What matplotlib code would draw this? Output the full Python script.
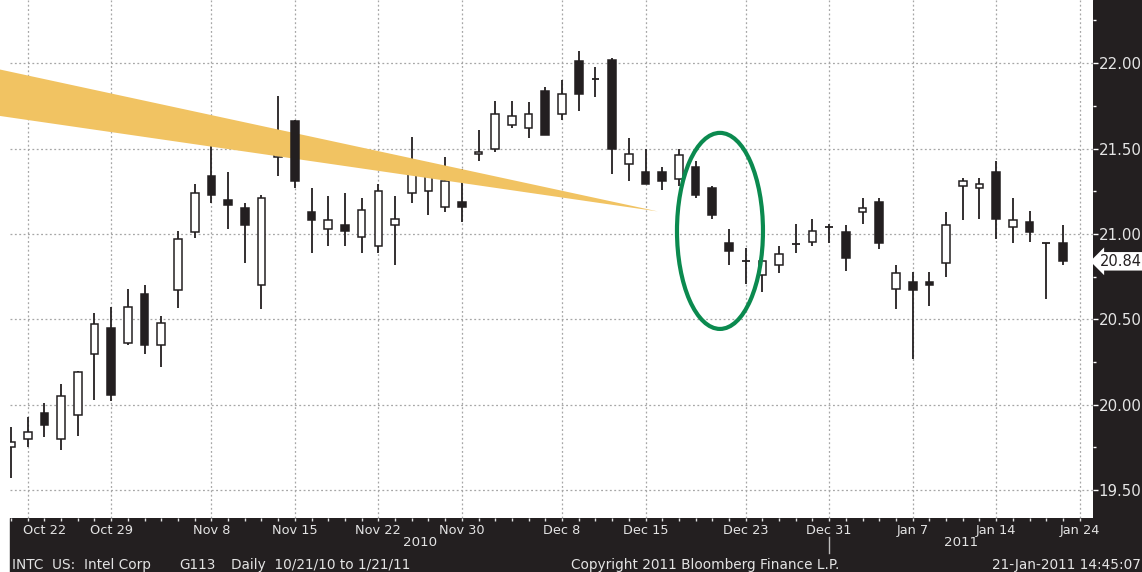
import numpy as np
import matplotlib
matplotlib.use('Agg')
import matplotlib.pyplot as plt
from matplotlib.patches import Rectangle, Polygon, Ellipse
from matplotlib.transforms import ScaledTranslation, blended_transform_factory

# INTC daily candles, 10/21/10 - 1/21/11
dates = ['2010-10-21', '2010-10-22', '2010-10-25', '2010-10-26', '2010-10-27', '2010-10-28', '2010-10-29',
         '2010-11-01', '2010-11-02', '2010-11-03', '2010-11-04', '2010-11-05', '2010-11-08', '2010-11-09',
         '2010-11-10', '2010-11-11', '2010-11-12', '2010-11-15', '2010-11-16', '2010-11-17', '2010-11-18',
         '2010-11-19', '2010-11-22', '2010-11-23', '2010-11-24', '2010-11-26', '2010-11-29', '2010-11-30',
         '2010-12-01', '2010-12-02', '2010-12-03', '2010-12-06', '2010-12-07', '2010-12-08', '2010-12-09',
         '2010-12-10', '2010-12-13', '2010-12-14', '2010-12-15', '2010-12-16', '2010-12-17', '2010-12-20',
         '2010-12-21', '2010-12-22', '2010-12-23', '2010-12-27', '2010-12-28', '2010-12-29', '2010-12-30',
         '2010-12-31', '2011-01-03', '2011-01-04', '2011-01-05', '2011-01-06', '2011-01-07', '2011-01-10',
         '2011-01-11', '2011-01-12', '2011-01-13', '2011-01-14', '2011-01-18', '2011-01-19', '2011-01-20',
         '2011-01-21']

opens = [19.755, 19.80, 19.95, 19.80, 19.94, 20.30, 20.45, 20.36, 20.65, 20.35, 20.67, 21.01, 21.34, 21.20,
         21.15, 20.70, 21.45, 21.66, 21.13, 21.03, 21.05, 20.98, 20.93, 21.05, 21.24, 21.25, 21.16, 21.19,
         21.47, 21.50, 21.64, 21.62, 21.84, 21.70, 22.01, 21.91, 22.02, 21.41, 21.36, 21.36, 21.32, 21.39,
         21.27, 20.95, 20.84, 20.76, 20.82, 20.94, 20.955, 21.04, 21.01, 21.13, 21.19, 20.68, 20.72, 20.72,
         20.83, 21.28, 21.27, 21.36, 21.04, 21.07, 20.945, 20.95]
highs = [19.87, 19.93, 20.01, 20.12, 20.20, 20.54, 20.57, 20.68, 20.70, 20.52, 21.02, 21.29, 21.52, 21.36,
         21.18, 21.23, 21.81, 21.67, 21.27, 21.22, 21.24, 21.21, 21.29, 21.22, 21.57, 21.42, 21.45, 21.38,
         21.61, 21.78, 21.78, 21.77, 21.86, 21.90, 22.07, 21.98, 22.03, 21.56, 21.50, 21.39, 21.50, 21.43,
         21.28, 21.03, 20.92, 20.87, 20.93, 21.06, 21.09, 21.06, 21.05, 21.21, 21.21, 20.82, 20.78, 20.78,
         21.13, 21.33, 21.33, 21.43, 21.21, 21.135, 20.945, 21.05]
lows = [19.57, 19.755, 19.81, 19.735, 19.82, 20.03, 20.02, 20.35, 20.30, 20.22, 20.565, 20.975, 21.18, 21.03,
        20.83, 20.56, 21.34, 21.27, 20.89, 20.93, 20.93, 20.89, 20.89, 20.82, 21.18, 21.11, 21.13, 21.07,
        21.43, 21.48, 21.62, 21.56, 21.58, 21.67, 21.72, 21.80, 21.35, 21.31, 21.29, 21.26, 21.28, 21.21,
        21.09, 20.82, 20.71, 20.66, 20.77, 20.89, 20.93, 20.95, 20.785, 21.06, 20.91, 20.56, 20.27, 20.58,
        20.75, 21.08, 21.09, 20.97, 20.95, 20.955, 20.62, 20.82]
closes = [19.78, 19.84, 19.88, 20.05, 20.19, 20.47, 20.06, 20.57, 20.35, 20.48, 20.97, 21.24, 21.23, 21.17,
          21.05, 21.21, 21.60, 21.31, 21.08, 21.08, 21.02, 21.14, 21.25, 21.09, 21.38, 21.38, 21.31, 21.16,
          21.48, 21.70, 21.69, 21.70, 21.58, 21.82, 21.82, 21.91, 21.50, 21.47, 21.29, 21.31, 21.46, 21.23,
          21.11, 20.90, 20.84, 20.84, 20.88, 20.94, 21.02, 21.04, 20.86, 21.15, 20.95, 20.77, 20.67, 20.70,
          21.05, 21.31, 21.29, 21.09, 21.08, 21.01, 20.945, 20.84]

tick_labels = ['Oct 22', 'Oct 29', 'Nov 8', 'Nov 15', 'Nov 22', 'Nov 30', 'Dec 8', 'Dec 15', 'Dec 23',
               'Dec 31', 'Jan 7', 'Jan 14', 'Jan 24']
tick_days = ['2010-10-22', '2010-10-29', '2010-11-08', '2010-11-15', '2010-11-22', '2010-11-30',
             '2010-12-08', '2010-12-15', '2010-12-23', '2010-12-31', '2011-01-07', '2011-01-14', '2011-01-24']
yticks = [19.50, 20.00, 20.50, 21.00, 21.50, 22.00]
last_price = 20.84

# annotation shapes (index / price units)
band_pts = [(-0.66, 21.963), (38.74, 21.132), (-0.66, 21.691)]
circle_center = (42.46, 21.018)

DARK = '#231f20'
LIGHT = '#e4e4e4'
W, H = 1142, 572

fig = plt.figure(figsize=(W / 100, H / 100), dpi=100)
bg = fig.add_axes([0, 0, 1, 1], zorder=-1)
bg.set_xlim(0, W)
bg.set_ylim(H, 0)
bg.axis('off')
bg.add_patch(Rectangle((10, 518), W - 10, 54, color=DARK))
bg.add_patch(Rectangle((1093, 0), W - 1093, 518, color=DARK))

ax = fig.add_axes([10 / W, 54 / H, 1083 / W, 518 / H])
ax.set_facecolor('white')

x = np.arange(len(dates))
bw = 0.46
for i in x:
    o, h, l, c = opens[i], highs[i], lows[i], closes[i]
    ax.vlines(i, l, h, color=DARK, lw=1.3, zorder=2)
    if abs(c - o) < 0.004:
        ax.hlines(o, i - bw / 2, i + bw / 2, color=DARK, lw=1.3, zorder=2)
    elif c > o:
        ax.add_patch(Rectangle((i - bw / 2, o), bw, c - o, fc='white', ec=DARK, lw=1.1, zorder=3))
    else:
        ax.add_patch(Rectangle((i - bw / 2, c), bw, o - c, fc=DARK, ec=DARK, lw=1.1, zorder=5))

ax.add_patch(Polygon(band_pts, closed=True, fc='#f1c362', ec='none', zorder=4, clip_on=False))
ax.add_patch(Ellipse(circle_center, 5.15, 1.148, fill=False, ec='#0b8a4f', lw=3, zorder=6))

# x axis: daily ticks, date labels
tick_pos = [dates.index(d) if d in dates else len(dates) for d in tick_days]
ax.set_xticks(tick_pos)
ax.set_xticklabels(tick_labels)
ax.set_xticks(x.tolist() + [len(dates)], minor=True)
ax.tick_params(axis='x', which='both', direction='out', length=2.5, width=1, color=LIGHT,
               labelcolor=LIGHT, labelsize=9.3, pad=1.5)
first = ax.get_xticklabels()[0]
first.set_ha('left')
first.set_transform(first.get_transform() + ScaledTranslation(-5 / 100, 0, fig.dpi_scale_trans))

# y axis on the right
ax.yaxis.tick_right()
ax.set_yticks(yticks)
ax.set_yticklabels([f'{v:.2f}' for v in yticks])
ax.set_yticks([v + 0.25 for v in yticks], minor=True)
ax.tick_params(axis='y', which='major', direction='out', length=3.5, width=1, color='white',
               labelcolor=LIGHT, labelsize=10.8, pad=0.5)
ax.tick_params(axis='y', which='minor', direction='out', length=2.5, width=1, color='white')

# limits after ticks (set_ticks can widen the view)
ax.set_xlim(-0.06, 64.8)
ax.set_ylim(19.337, 22.37)

ax.grid(True, which='major', color='#a6a6a6', ls=(0, (1.5, 2)), lw=0.9)
ax.set_axisbelow(True)
for s in ax.spines.values():
    s.set_visible(False)

# last price tag
tr = blended_transform_factory(ax.transAxes, ax.transData)
ax.text(1 + 7 / 1083, last_price, f'{last_price:.2f}', transform=tr, ha='left', va='center',
        fontsize=10.5, color=DARK,
        bbox=dict(boxstyle='larrow,pad=0.12', fc='white', ec='none'))

# year labels and separator
xt = ax.get_xaxis_transform()
dec31 = dates.index('2010-12-31')
xl, xr = ax.get_xlim()
ax.text((xl + dec31) / 2, -25 / 518, '2010', transform=xt, ha='center', va='center',
        color=LIGHT, fontsize=9.6)
ax.text((dec31 + xr) / 2, -25 / 518, '2011', transform=xt, ha='center', va='center',
        color=LIGHT, fontsize=9.6)
ax.plot([dec31, dec31], [-19 / 518, -35 / 518], transform=xt, clip_on=False, color='#bdbdbd', lw=1)

# footer
fy = 1 - 565 / H
fs = 9.8
fig.text(12 / W, fy, 'INTC  US:  Intel Corp', color=LIGHT, fontsize=fs, va='center')
fig.text(179 / W, fy, 'G113', color=LIGHT, fontsize=fs, va='center')
fig.text(231 / W, fy, 'Daily  10/21/10 to 1/21/11', color=LIGHT, fontsize=fs, va='center')
fig.text(571 / W, fy, 'Copyright 2011 Bloomberg Finance L.P.', color=LIGHT, fontsize=fs, va='center')
fig.text(1141 / W, fy, '21-Jan-2011 14:45:07', color=LIGHT, fontsize=fs, va='center', ha='right')

fig.savefig('out.png', dpi=100)
